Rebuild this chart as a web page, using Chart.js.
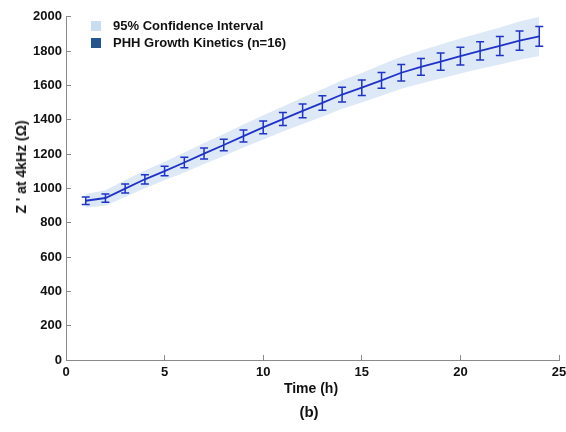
<!DOCTYPE html>
<html>
<head>
<meta charset="utf-8">
<script src="https://cdn.jsdelivr.net/npm/chart.js@4"></script>
<style>
  html, body { margin: 0; padding: 0; background: #fff; }
  #wrap { position: relative; width: 566px; height: 432px; overflow: hidden; font-family: Arial, "Liberation Sans", sans-serif; font-weight: bold; color: #111; }
  #chart { position: absolute; left: 0; top: 0; }
  .legend { position: absolute; left: 91px; top: 17px; font-size: 13px; line-height: 17px; }
  .legend div { height: 17px; white-space: nowrap; }
  .legend span { display: inline-block; width: 10px; height: 10px; margin-right: 12px; vertical-align: -1px; }
  #ytitle { position: absolute; left: 21px; top: 167px; font-size: 14px; white-space: nowrap; transform: translate(-50%, -50%) rotate(-90deg); }
  #xtitle { position: absolute; left: 311px; top: 388px; font-size: 14px; transform: translate(-50%, -50%); white-space: nowrap; }
  #sub { position: absolute; left: 309px; top: 411px; font-size: 15px; transform: translate(-50%, -50%); }
</style>
</head>
<body>
<div id="wrap">
  <canvas id="chart" width="566" height="432"></canvas>
  <div class="legend">
    <div><span style="background:#c9dcf2"></span>95% Confidence Interval</div>
    <div><span style="background:#24558f"></span>PHH Growth Kinetics (n=16)</div>
  </div>
  <div id="ytitle">Z ' at 4kHz (Ω)</div>
  <div id="xtitle">Time (h)</div>
  <div id="sub">(b)</div>
</div>
<script>
var hours = [1, 2, 3, 4, 5, 6, 7, 8, 9, 10, 11, 12, 13, 14, 15, 16, 17, 18, 19, 20, 21, 22, 23, 24];
var meanZ = [928, 944, 999, 1053, 1101, 1151, 1203, 1253, 1305, 1356, 1404, 1452, 1498, 1547, 1587, 1630, 1674, 1708, 1739, 1771, 1801, 1830, 1861, 1886];
var errZ = [22, 24, 26, 27, 28, 30, 32, 33, 35, 37, 38, 40, 42, 43, 45, 46, 48, 49, 50, 52, 53, 55, 56, 58];
var ciUpper = [968, 989, 1048, 1105, 1155, 1209, 1264, 1317, 1372, 1427, 1477, 1529, 1578, 1630, 1673, 1720, 1767, 1804, 1838, 1873, 1905, 1938, 1972, 2000];
var ciLower = [888, 899, 950, 1001, 1047, 1093, 1142, 1189, 1238, 1285, 1331, 1375, 1418, 1464, 1501, 1540, 1581, 1612, 1640, 1669, 1697, 1722, 1750, 1772];
var xTicks = [0, 5, 10, 15, 20, 25];
var yTicks = [0, 200, 400, 600, 800, 1000, 1200, 1400, 1600, 1800, 2000];

var BLUE = '#1f33c8';
var BAND = '#dde9f7';
var AXIS = '#8a8a8a';

function pts(ys) {
  return hours.map(function (h, i) { return { x: h, y: ys[i] }; });
}

/** Error bars with caps, drawn from meanZ / errZ through the scales. */
var errorBarPlugin = {
  id: 'errorBars',
  afterDatasetsDraw: function (chart) {
    var ctx = chart.ctx;
    var xs = chart.scales.x, ys = chart.scales.y;
    ctx.save();
    ctx.strokeStyle = BLUE;
    ctx.lineWidth = 1.5;
    hours.forEach(function (h, i) {
      var px = xs.getPixelForValue(h);
      var top = ys.getPixelForValue(meanZ[i] + errZ[i]);
      var bot = ys.getPixelForValue(meanZ[i] - errZ[i]);
      ctx.beginPath();
      ctx.moveTo(px, top); ctx.lineTo(px, bot);
      ctx.moveTo(px - 4, top); ctx.lineTo(px + 4, top);
      ctx.moveTo(px - 4, bot); ctx.lineTo(px + 4, bot);
      ctx.stroke();
    });
    ctx.restore();
  }
};

var tickFont = { family: 'Arial, "Liberation Sans", sans-serif', size: 13, weight: 'bold' };
function plain(v) { return String(v); }

new Chart(document.getElementById('chart').getContext('2d'), {
  type: 'line',
  data: {
    datasets: [
      { data: pts(meanZ), borderColor: BLUE, borderWidth: 1.8, pointRadius: 0, fill: false, order: 0 },
      { data: pts(ciUpper), borderWidth: 0, pointRadius: 0, fill: '+1', backgroundColor: BAND, borderColor: BAND, order: 1 },
      { data: pts(ciLower), borderWidth: 0, pointRadius: 0, fill: false, borderColor: BAND, order: 2 }
    ]
  },
  options: {
    responsive: false,
    animation: false,
    layout: { padding: { left: 0, top: 12, right: 7, bottom: 0 } },
    plugins: { legend: { display: false }, tooltip: { enabled: false } },
    scales: {
      x: {
        type: 'linear', min: 0, max: 25,
        // the "25" label runs off the right edge, as in the original figure
        afterFit: function (s) { s.height = 72; s.paddingRight = 0; s.paddingLeft = 0; },
        afterBuildTicks: function (s) { s.ticks = xTicks.map(function (v) { return { value: v }; }); },
        grid: { drawOnChartArea: false, drawTicks: true, tickLength: -5, color: AXIS },
        border: { display: true, color: AXIS, width: 1 },
        ticks: { color: '#111', font: tickFont, padding: 10, maxRotation: 0, callback: plain }
      },
      y: {
        type: 'linear', min: 0, max: 2000,
        afterFit: function (s) { s.width = 66; },
        afterBuildTicks: function (s) { s.ticks = yTicks.map(function (v) { return { value: v }; }); },
        grid: { drawOnChartArea: false, drawTicks: true, tickLength: -5, color: AXIS },
        border: { display: true, color: AXIS, width: 1 },
        ticks: { color: '#111', font: tickFont, padding: 9, callback: plain }
      }
    }
  },
  plugins: [errorBarPlugin]
});
</script>
</body>
</html>
